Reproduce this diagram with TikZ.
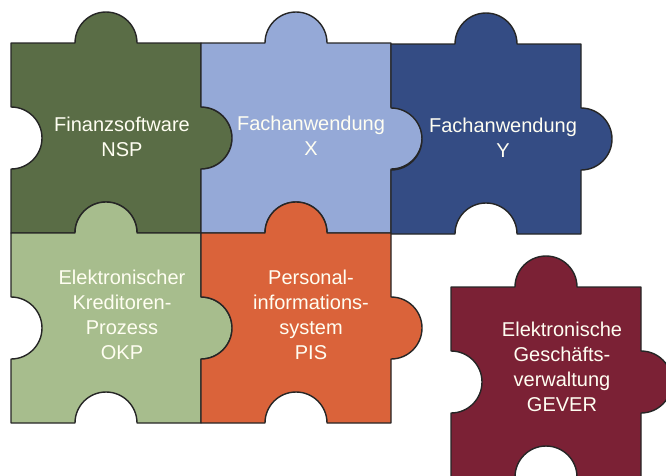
\documentclass[tikz,border=0pt]{standalone}
\usepackage{fontspec}
\setmainfont{Liberation Sans}
\definecolor{nspgreen}{HTML}{5A6D46}
\definecolor{xblue}{HTML}{95A9D7}
\definecolor{yblue}{HTML}{344C84}
\definecolor{okpgreen}{HTML}{A7BD8D}
\definecolor{pisorange}{HTML}{DA633A}
\definecolor{geverred}{HTML}{7B2135}

\begin{document}
\begin{tikzpicture}[x = 1pt, y = -1pt,
    every node/.style = {align = center, text = white!95!yellow, font = \fontsize{20}{25}\selectfont},
    piece/.pic = {
        \path[pic actions, draw = black!85, line width = 1.4pt, line join = round]
            (0,0) -- (64,0) arc[start angle = 180, end angle = 360, radius = 31] -- (190,0)
            -- (190,64) arc[start angle = -90, end angle = 90, radius = 31] -- (190,190)
            -- (126,190) arc[start angle = 0, end angle = -180, radius = 31] -- (0,190)
            -- (0,126) arc[start angle = 90, end angle = -90, radius = 31] -- cycle;
    }]
    \useasboundingbox (0,0) rectangle (666,475);
    \clip (0,0) rectangle (666,475);
        \pic[fill = nspgreen]  at (11,43)   {piece};
        \pic[fill = xblue]     at (201,43)  {piece};
        \pic[fill = yblue]     at (391,44)  {piece};
        \pic[fill = okpgreen]  at (11,233)  {piece};
        \pic[fill = pisorange] at (201,233) {piece};
        \pic[fill = geverred]  at (451,287) {piece};
        \node (nsp)   at (122,137) {Finanzsoftware\\NSP};
        \node (fx)    at (311,136) {Fachanwendung\\X};
        \node (fy)    at (503,138) {Fachanwendung\\Y};
        \node (okp)   at (122,315) {Elektronischer\\Kreditoren-\\Prozess\\OKP};
        \node (pis)   at (311,315) {Personal-\\informations-\\system\\PIS};
        \node (gever) at (562,367) {Elektronische\\Geschäfts-\\verwaltung\\GEVER};
\end{tikzpicture}
\end{document}
